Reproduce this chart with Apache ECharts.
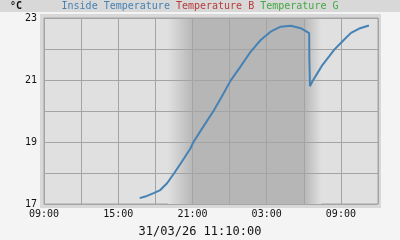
<!DOCTYPE html>
<html><head><meta charset="utf-8">
<script src="https://cdn.jsdelivr.net/npm/echarts@6/dist/echarts.min.js"></script>
<style>html,body{margin:0;padding:0;background:#f4f4f4}#c{width:400px;height:240px}</style>
</head><body><div id="c"></div>
<script>
// Axis range (hours shown from 30/03 09:00 to 31/03 12:00)
const axisStart = '2026-03-30 09:00';
const axisEnd = '2026-03-31 12:00';
const nightStart = '2026-03-30 19:00';
const nightFullStart = '2026-03-30 21:05';
const nightFullEnd = '2026-03-31 06:00';
const nightEnd = '2026-03-31 07:25';
const yTicks = [17, 19, 21, 23];
const seriesNames = ['Inside Temperature', 'Temperature B', 'Temperature G'];
const times = [
 '2026-03-30 16:44','2026-03-30 17:11','2026-03-30 17:52','2026-03-30 18:24','2026-03-30 18:57',
 '2026-03-30 19:32','2026-03-30 20:10','2026-03-30 20:50','2026-03-30 21:05','2026-03-30 21:55',
 '2026-03-30 22:42','2026-03-30 23:08','2026-03-30 23:32','2026-03-31 00:05','2026-03-31 00:53','2026-03-31 01:42',
 '2026-03-31 02:31','2026-03-31 03:19','2026-03-31 04:08','2026-03-31 04:57','2026-03-31 05:45',
 '2026-03-31 06:26','2026-03-31 06:27','2026-03-31 06:30','2026-03-31 06:42','2026-03-31 07:07',
 '2026-03-31 07:31','2026-03-31 08:03','2026-03-31 08:28','2026-03-31 09:08','2026-03-31 09:49',
 '2026-03-31 10:29','2026-03-31 11:16'
];
const insideTemp = [
 17.19,17.24,17.35,17.45,17.67,
 18.00,18.38,18.79,19.00,19.52,
 20.00,20.30,20.58,20.98,21.43,21.91,
 22.29,22.56,22.72,22.75,22.67,
 22.51,21.68,20.80,20.96,21.23,
 21.49,21.76,21.98,22.25,22.52,
 22.66,22.76
];
const titleText = '31/03/26 11:10:00';

function ms(s){const [d,t]=s.split(' ');const [Y,M,D]=d.split('-').map(Number);const [h,m]=t.split(':').map(Number);return Date.UTC(Y,M-1,D,h,m);}
const t0 = ms(axisStart);
const hrs = s => (ms(s)-t0)/3600000;
const data = times.map((t,i)=>[hrs(t), insideTemp[i]]);
const span = hrs(nightEnd)-hrs(nightStart);
const s1 = (hrs(nightFullStart)-hrs(nightStart))/span;
const s2 = (hrs(nightFullEnd)-hrs(nightStart))/span;
const mono = 'DejaVu Sans Mono';

const chart = echarts.init(document.getElementById('c'), null, {renderer:'canvas'});
chart.setOption({
  backgroundColor:'#f4f4f4',
  animation:false,
  graphic:[
    {type:'rect', shape:{x:0,y:0,width:400,height:12}, style:{fill:'#d8d8d8'}, z:0},
    {type:'rect', shape:{x:40,y:14,width:341,height:194}, style:{fill:'#d8d8d8'}, z:-1, zlevel:0},
    {type:'text', left:10, top:1, style:{text:'°C', font:'bold 10px '+mono, fill:'#111'}},
    {type:'text', x:200, y:6, style:{
      text:'{a|'+seriesNames[0]+'} {b|'+seriesNames[1]+'} {c|'+seriesNames[2]+'}',
      align:'center', verticalAlign:'middle', font:'10px '+mono,
      rich:{a:{fill:'#4682b4',font:'10px '+mono},b:{fill:'#b83a3a',font:'10px '+mono},c:{fill:'#44a844',font:'10px '+mono}}
    }},
    {type:'text', x:200, y:232, style:{text:titleText, align:'center', verticalAlign:'middle', font:'12px '+mono, fill:'#111'}}
  ],
  grid:{left:44, top:18, width:334, height:186, show:true, backgroundColor:'#e0e0e0', borderColor:'#a4a4a4', borderWidth:1, z:0},
  xAxis:{type:'value', min:0, max:hrs(axisEnd), interval:3, z:2,
    axisLine:{show:false}, axisTick:{show:false},
    splitLine:{show:true, lineStyle:{color:'#a4a4a4', width:1}},
    axisLabel:{margin:5, fontFamily:mono, fontSize:10, color:'#111',
      formatter:v=> (v%6===0) ? String((9+v)%24).padStart(2,'0')+':00' : ''}
  },
  yAxis:{type:'value', min:17, max:23, interval:1, z:2,
    axisLine:{show:false}, axisTick:{show:false},
    splitLine:{show:true, lineStyle:{color:'#a4a4a4', width:1}},
    axisLabel:{margin:7, fontFamily:mono, fontSize:10, color:'#111',
      formatter:v=> yTicks.includes(v) ? String(v) : ''}
  },
  series:[
    {type:'line', name:'night', data:[], z:1, silent:true,
     markArea:{silent:true, itemStyle:{color:{type:'linear',x:0,y:0,x2:1,y2:0,colorStops:[
        {offset:0,color:'#e0e0e0'},{offset:s1,color:'#b6b6b6'},{offset:s2,color:'#b6b6b6'},{offset:1,color:'#e0e0e0'}]}},
       data:[[{xAxis:hrs(nightStart)},{xAxis:hrs(nightEnd)}]]}},
    {type:'line', name:seriesNames[0], data:data, z:3, showSymbol:false, symbol:'none',
     lineStyle:{color:'#4682b4', width:2}, itemStyle:{color:'#4682b4'}},
    {type:'line', name:seriesNames[1], data:[], z:3, symbol:'none', lineStyle:{color:'#b83a3a'}},
    {type:'line', name:seriesNames[2], data:[], z:3, symbol:'none', lineStyle:{color:'#44a844'}}
  ]
});
</script></body></html>
